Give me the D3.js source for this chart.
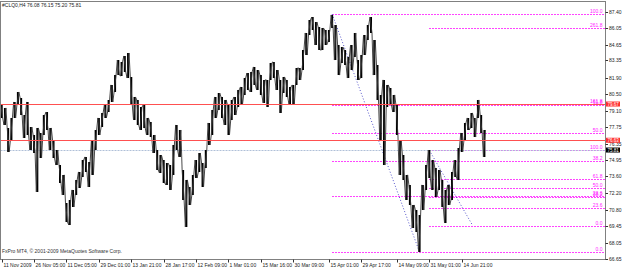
<!DOCTYPE html>
<html>
<head>
<meta charset="utf-8">
<script src="https://cdn.jsdelivr.net/npm/d3@7"></script>
<style>
body { margin: 0; background: #fff; }
svg text { font-family: "Liberation Sans", Arial, sans-serif; font-size: 5px; }
</style>
</head>
<body>
<div id="chart"></div>
<script>
var headerText = "#CLQ0,H4  76.08 76.15 75.20 75.81"
var copyText = "FxPro MT4, \u00a9 2001-2009 MetaQuotes Software Corp."

// H4 bars, high / low (every ~3 px column of the picture)
var high = [79.60, 79.35, 77.67, 78.51, 79.85, 80.69, 80.19, 78.76, 79.85, 77.75,
  77.08, 77.67, 77.25, 78.76, 79.01, 77.67, 76.66, 75.82, 74.56, 73.73,
  71.38, 71.63, 72.47, 73.31, 73.98, 74.98, 75.24, 74.82, 76.66, 77.50,
  78.51, 78.93, 79.60, 80.02, 81.28, 82.11, 83.37, 83.21, 83.71, 83.96,
  81.95, 80.27, 80.02, 79.43, 79.60, 78.51, 78.17, 77.08, 75.82, 75.40,
  74.98, 74.73, 74.56, 76.24, 77.92, 77.50, 74.15, 73.31, 72.72, 73.73,
  74.98, 75.57, 74.73, 75.82, 78.09, 79.18, 80.27, 80.60, 80.27, 80.02,
  79.60, 80.02, 80.27, 80.86, 81.11, 81.86, 82.28, 82.37, 82.79, 82.53,
  82.11, 81.70, 81.70, 83.12, 83.21, 82.53, 81.70, 81.95, 81.70, 81.11,
  81.28, 82.70, 82.70, 84.21, 85.64, 86.73, 86.98, 86.56, 86.14, 86.06,
  85.89, 85.89, 87.15, 86.31, 84.63, 84.46, 84.21, 83.62, 84.63, 85.64,
  83.37, 83.79, 85.47, 86.31, 86.98, 85.05, 82.95, 80.44, 81.70, 81.28,
  81.02, 80.44, 79.60, 76.66, 75.40, 73.73, 72.89, 71.21, 70.79, 70.37,
  72.89, 74.56, 75.82, 74.98, 74.31, 74.15, 73.31, 72.47, 72.89, 73.98,
  74.98, 75.99, 77.25, 78.09, 78.51, 78.93, 78.51, 80.02, 78.76, 77.50]
var low = [78.51, 77.92, 75.66, 76.66, 78.51, 79.60, 78.76, 76.83, 77.08, 75.82,
  75.57, 72.30, 75.15, 77.08, 77.50, 75.82, 75.15, 74.56, 73.05, 72.05,
  69.78, 69.53, 71.04, 72.05, 72.64, 73.56, 73.98, 72.72, 73.73, 75.82,
  77.08, 77.75, 78.51, 79.01, 79.85, 80.69, 82.11, 82.03, 82.37, 81.86,
  79.60, 78.34, 77.92, 77.50, 77.67, 77.08, 76.91, 75.57, 74.15, 73.89,
  73.05, 72.89, 72.47, 73.73, 75.82, 75.24, 71.63, 69.36, 71.21, 72.05,
  73.47, 73.98, 72.72, 74.31, 76.24, 77.08, 78.51, 79.18, 78.51, 77.92,
  77.08, 78.34, 78.76, 79.43, 79.60, 80.44, 80.86, 80.69, 81.28, 80.86,
  80.44, 79.77, 79.43, 81.70, 81.86, 80.86, 78.93, 80.60, 80.27, 79.60,
  79.60, 81.28, 81.70, 82.53, 83.79, 85.47, 85.89, 84.63, 84.21, 84.21,
  84.63, 84.88, 86.06, 83.37, 82.11, 83.12, 82.95, 81.86, 82.53, 83.62,
  81.70, 81.86, 83.79, 85.05, 85.64, 82.11, 80.02, 76.66, 74.56, 79.43,
  79.60, 79.01, 77.08, 73.73, 73.31, 71.63, 71.21, 69.28, 68.94, 67.27,
  70.79, 72.47, 73.47, 72.47, 71.88, 72.47, 71.04, 69.70, 71.21, 71.63,
  73.56, 73.31, 75.66, 76.66, 77.50, 77.67, 76.91, 78.51, 77.25, 75.24]
var lastPrice = 75.81

var yTicks = [87.40, 86.05, 84.65, 83.35, 81.90, 80.50, 79.10, 77.75, 76.35,
  74.95, 73.60, 72.20, 70.80, 69.45, 68.05, 66.65]
var xTickBars = [0, 10, 20, 30, 40, 50, 60, 70, 80, 90, 101, 111, 122, 132, 142]
var xTickLabels = ["11 Nov 2009", "26 Nov 05:00", "11 Dec 05:00", "29 Dec 01:00",
  "13 Jan 21:00", "28 Jan 17:00", "12 Feb 09:00", "1 Mar 01:00", "15 Mar 16:00",
  "30 Mar 09:00", "15 Apr 01:00", "29 Apr 17:00", "14 May 09:00", "31 May 01:00",
  "14 Jun 21:00"]

var redLevels = [79.67, 76.63]

// fibonacci objects: anchor bars and prices
var fib1Bars = [102, 129], fib1Prices = [87.23, 67.24]
var fib1Ratios = [0, 23.6, 38.2, 50, 61.8, 100]
var fib2Bars = [132, 145.4], fib2Prices = [75.80, 69.47]
var fib2Ratios = [0, 23.6, 38.2, 50, 61.8, 100, 161.8, 261.8]

var width = 625, height = 269
var plotL = 0.5, plotR = 605.5, plotT = 1.5, plotB = 259.5

var x = d3.scaleLinear().domain([0, 149]).range([1.7, 484.4])
var y = d3.scaleLinear().domain([66.65, 87.40]).range([259.3, 12])
var crisp = function(v) { return Math.round(v) + 0.5 }

var svg = d3.select("#chart").append("svg")
  .attr("width", width)
  .attr("height", height)
  .style("display", "block")

svg.append("rect").attr("width", width).attr("height", height).attr("fill", "#fff")

svg.append("defs").append("clipPath").attr("id", "plot")
  .append("rect")
  .attr("x", plotL).attr("y", plotT)
  .attr("width", plotR - plotL).attr("height", plotB - plotT)

var plot = svg.append("g").attr("clip-path", "url(#plot)")

// fibo levels
function drawFib(bars, prices, ratios) {
  var x0 = Math.round(x(bars[0]))
  var lines = plot.append("g")
  ratios.forEach(function(r) {
    var p = prices[1] + r / 100 * (prices[0] - prices[1])
    var yy = crisp(y(p))
    lines.append("line")
      .attr("x1", x0).attr("x2", plotR)
      .attr("y1", yy).attr("y2", yy)
      .attr("stroke", "#ff44ff")
      .attr("stroke-width", 1)
      .attr("stroke-dasharray", "2,1")
    lines.append("text")
      .attr("x", plotR - 3)
      .attr("y", yy - 1.5)
      .attr("text-anchor", "end")
      .attr("fill", "#ff22ff")
      .text(r.toFixed(1))
  })
  plot.append("line")
    .attr("x1", x(bars[0])).attr("y1", y(prices[0]))
    .attr("x2", x(bars[1])).attr("y2", y(prices[1]))
    .attr("stroke", "#5555cc")
    .attr("stroke-width", 1)
    .attr("stroke-dasharray", "1,2")
}
drawFib(fib1Bars, fib1Prices, fib1Ratios)
drawFib(fib2Bars, fib2Prices, fib2Ratios)

// bid line
plot.append("line")
  .attr("x1", plotL).attr("x2", plotR)
  .attr("y1", crisp(y(lastPrice))).attr("y2", crisp(y(lastPrice)))
  .attr("stroke", "#b0c0d8")
  .attr("stroke-dasharray", "2,1")

// price bars
plot.selectAll(".bar")
  .data(high)
  .enter()
  .append("line")
  .attr("class", "bar")
  .attr("x1", function(d, i) { return x(i) })
  .attr("x2", function(d, i) { return x(i) })
  .attr("y1", function(d) { return y(d) })
  .attr("y2", function(d, i) { return y(low[i]) })
  .attr("stroke", "#000")
  .attr("stroke-width", 2)

var zig = []
high.forEach(function(h, i) {
  if (i % 2 == 0) {
    zig.push([x(i) - 1, y(h)], [x(i) + 1, y(low[i])])
  } else {
    zig.push([x(i) - 1, y(low[i])], [x(i) + 1, y(h)])
  }
})
plot.append("path")
  .attr("d", d3.line()(zig))
  .attr("fill", "none")
  .attr("stroke", "#333")
  .attr("stroke-width", 0.9)

// horizontal red lines
redLevels.forEach(function(p) {
  plot.append("line")
    .attr("x1", plotL).attr("x2", plotR)
    .attr("y1", crisp(y(p))).attr("y2", crisp(y(p)))
    .attr("stroke", "#ff5050")
    .attr("stroke-width", 1)
    .attr("shape-rendering", "crispEdges")
})

// frame
svg.append("path")
  .attr("d", "M" + plotL + "," + plotB + "V" + plotT + "H" + plotR + "V" + plotB + "H" + plotL)
  .attr("fill", "none")
  .attr("stroke", "#808080")
  .attr("stroke-width", 1)
  .attr("shape-rendering", "crispEdges")

// y axis
var yAxis = svg.append("g")
yTicks.forEach(function(t) {
  var yy = crisp(y(t))
  yAxis.append("line")
    .attr("x1", plotR).attr("x2", plotR + 2.5)
    .attr("y1", yy).attr("y2", yy)
    .attr("stroke", "#333")
  yAxis.append("text")
    .attr("x", plotR + 3.5)
    .attr("y", yy + 1.9)
    .attr("fill", "#222")
    .text(t.toFixed(2))
})

// x axis
var xAxis = svg.append("g")
xTickBars.forEach(function(b, k) {
  var xx = crisp(x(b))
  xAxis.append("line")
    .attr("x1", xx).attr("x2", xx)
    .attr("y1", plotB).attr("y2", plotB + 3)
    .attr("stroke", "#333")
  xAxis.append("text")
    .attr("x", xx + 1)
    .attr("y", 266.5)
    .attr("fill", "#222")
    .text(xTickLabels[k])
})

// price tags on the right
function priceTag(p, color) {
  var yy = y(p)
  svg.append("rect")
    .attr("x", plotR + 0.5).attr("y", yy - 2.6)
    .attr("width", 14).attr("height", 5)
    .attr("fill", color)
  svg.append("text")
    .attr("x", plotR + 2)
    .attr("y", yy + 1.5)
    .attr("fill", "#fff")
    .style("font-size", "4.5px")
    .text(p.toFixed(2))
}
redLevels.forEach(function(p) { priceTag(p, "#ff3030") })
priceTag(lastPrice, "#000")

svg.append("text").attr("x", 2).attr("y", 7).attr("fill", "#222").text(headerText)
svg.append("text").attr("x", 2).attr("y", 253).attr("fill", "#333").text(copyText)
</script>
</body>
</html>
